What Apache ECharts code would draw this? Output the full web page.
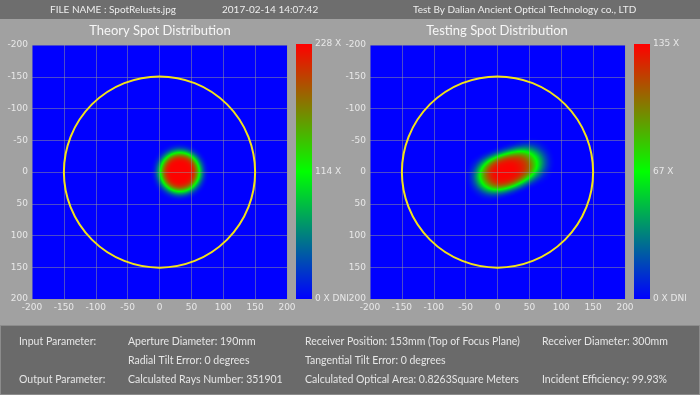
<!DOCTYPE html>
<html><head><meta charset="utf-8">
<script src="https://cdn.jsdelivr.net/npm/echarts@6/dist/echarts.min.js"></script>
<style>html,body{margin:0;padding:0;background:#a1a1a1}#c{width:700px;height:395px}</style>
</head><body><div id="c"></div>
<script>
// ---- data ----
const axisTicks = [-200, -150, -100, -50, 0, 50, 100, 150, 200];
const receiverDiameter = 300;
const theoryMax = 228;
const testingMax = 135;
const theoryBarLabels = ['0 X DNI', '114 X', '228 X'];
const testingBarLabels = ['0 X DNI', '67 X', '135 X'];
// spot samples: [x (mm), y (mm), relative flux]
const theorySpot = [[32, 0, 228]];
const testingSpot = [[-11, 7, 80], [4, 2, 135], [19, -3, 135], [34, -9, 105], [51, -15, 60]];
const plotTitles = ['Theory Spot Distribution', 'Testing Spot Distribution'];
const headerTexts = ['FILE NAME : SpotRelusts.jpg', '2017-02-14 14:07:42', 'Test By Dalian Ancient Optical Technology co., LTD'];
const footerRows = [
  ['Input Parameter:', 'Aperture Diameter: 190mm', 'Receiver Position: 153mm (Top of Focus Plane)', 'Receiver Diameter: 300mm'],
  ['', 'Radial Tilt Error: 0 degrees', 'Tangential Tilt Error: 0 degrees', ''],
  ['Output Parameter:', 'Calculated Rays Number: 351901', 'Calculated Optical Area: 0.8263Square Meters', 'Incident Efficiency: 99.93%']
];

// ---- layout ----
const plotLeft = [32, 370];
const barLeft = [296, 634];
const plotTop = 45, plotW = 255, plotH = 254;
const FONT = 'Lato';
const amin = axisTicks[0], amax = axisTicks[axisTicks.length - 1];
const step = axisTicks[1] - axisTicks[0];

echarts.registerMap('receiverPlane', {
  type: 'FeatureCollection',
  features: [{ type: 'Feature', properties: { name: 'plane' },
    geometry: { type: 'Polygon', coordinates: [[[amin, amin], [amax, amin], [amax, amax], [amin, amax], [amin, amin]]] } }]
});

const chart = echarts.init(document.getElementById('c'), null, { renderer: 'canvas' });
const labelColor = '#e8e8e8';
const rampColors = ['#0000ff', '#00ff00', '#ff0000'];
const gridLineColor = 'rgba(150,150,150,0.5)';

function circleItem(params, api) {
  const c = api.coord([api.value(0), api.value(1)]);
  const r = api.size([api.value(2), 0])[0];
  return { type: 'circle', shape: { cx: c[0], cy: c[1], r: r },
    style: { fill: 'transparent', stroke: '#f2e21a', lineWidth: 2 } };
}
function barItem(params, api) {
  const p0 = api.coord([0, api.value(0)]);
  const p1 = api.coord([1, api.value(1)]);
  return { type: 'rect', shape: { x: p0[0], y: p1[1], width: p1[0] - p0[0], height: p0[1] - p1[1] },
    style: { fill: new echarts.graphic.LinearGradient(0, 1, 0, 0,
      rampColors.map((c, k) => ({ offset: k / (rampColors.length - 1), color: c }))) } };
}

const grids = [], xAxes = [], yAxes = [];
[0, 1].forEach(i => {
  grids.push({ left: plotLeft[i], top: plotTop, width: plotW, height: plotH, containLabel: false });
  xAxes.push({ gridIndex: i, type: 'value', min: amin, max: amax, interval: step, z: 3,
    axisLine: { show: false }, axisTick: { show: false },
    splitLine: { show: true, lineStyle: { color: gridLineColor, width: 1 } },
    axisLabel: { color: labelColor, fontSize: 9, margin: 4, fontFamily: 'DejaVu Sans', showMinLabel: true, showMaxLabel: true } });
  yAxes.push({ gridIndex: i, type: 'value', min: amin, max: amax, interval: step, inverse: true, z: 3,
    axisLine: { show: false }, axisTick: { show: false },
    splitLine: { show: true, lineStyle: { color: gridLineColor, width: 1 } },
    axisLabel: { color: labelColor, fontSize: 9, margin: 4, fontFamily: 'DejaVu Sans', showMinLabel: true, showMaxLabel: true } });
});
const barMax = [theoryMax, testingMax];
const barLabels = [theoryBarLabels, testingBarLabels];
[0, 1].forEach(i => {
  grids.push({ left: barLeft[i], top: 44, width: 16, height: 255 });
  xAxes.push({ gridIndex: 2 + i, type: 'value', min: 0, max: 1, show: false });
  yAxes.push({ gridIndex: 2 + i, type: 'value', min: 0, max: barMax[i], interval: barMax[i] / 2, position: 'right',
    axisLine: { show: false }, axisTick: { show: false }, splitLine: { show: false },
    axisLabel: { color: labelColor, fontSize: 9, margin: 3, fontFamily: 'DejaVu Sans', showMinLabel: true, showMaxLabel: true,
      formatter: (v, idx) => barLabels[i][idx] } });
});

const graphics = [
  { type: 'rect', shape: { x: 0, y: 0, width: 700, height: 19 }, style: { fill: '#6e6e6e' }, silent: true },
  { type: 'rect', shape: { x: 0.5, y: 325.5, width: 699, height: 69 }, style: { fill: '#6a6a6a', stroke: '#8c8c8c', lineWidth: 1 }, silent: true }
];
const headerX = [50, 222, 413];
headerTexts.forEach((t, k) => graphics.push({ type: 'text', x: headerX[k], y: 10, silent: true,
  style: { text: t, fill: '#eeeeee', font: '10px ' + FONT, textVerticalAlign: 'middle' } }));
const titleX = [160, 497];
plotTitles.forEach((t, k) => graphics.push({ type: 'text', x: titleX[k], y: 31, silent: true,
  style: { text: t, fill: '#f6f6f6', font: '13px ' + FONT, textAlign: 'center', textVerticalAlign: 'middle' } }));
const footX = [19, 128, 305, 542], footY = [342, 361, 380];
footerRows.forEach((row, r) => row.forEach((t, c) => { if (t) graphics.push({ type: 'text', x: footX[c], y: footY[r], silent: true,
  style: { text: t, fill: '#e6e6e6', font: '10.5px ' + FONT, textVerticalAlign: 'middle' } }); }));

const option = {
  backgroundColor: '#a1a1a1',
  animation: false,
  graphic: graphics,
  geo: [0, 1].map(i => ({
    map: 'receiverPlane', left: plotLeft[i], top: plotTop, width: plotW, height: plotH,
    projection: { project: p => [p[0], p[1]], unproject: p => [p[0], p[1]] },
    roam: false, silent: true, z: 0,
    itemStyle: { areaColor: '#0000ff', borderWidth: 0 },
    label: { show: false }, emphasis: { disabled: true }, select: { disabled: true }
  })),
  grid: grids, xAxis: xAxes, yAxis: yAxes,
  visualMap: [0, 1].map(i => ({
    type: 'continuous', show: false, seriesIndex: i, min: 0, max: barMax[i],
    inRange: { color: rampColors }
  })),
  series: [
    { type: 'heatmap', coordinateSystem: 'geo', geoIndex: 0, data: theorySpot, pointSize: 20, blurSize: 9, minOpacity: 1, maxOpacity: 1, silent: true },
    { type: 'heatmap', coordinateSystem: 'geo', geoIndex: 1, data: testingSpot, pointSize: 15, blurSize: 11, minOpacity: 1, maxOpacity: 1, silent: true },
    { type: 'custom', xAxisIndex: 0, yAxisIndex: 0, data: [[0, 0, receiverDiameter / 2]], renderItem: circleItem, z: 5, silent: true },
    { type: 'custom', xAxisIndex: 1, yAxisIndex: 1, data: [[0, 0, receiverDiameter / 2]], renderItem: circleItem, z: 5, silent: true },
    { type: 'custom', xAxisIndex: 2, yAxisIndex: 2, data: [[0, theoryMax]], renderItem: barItem, silent: true },
    { type: 'custom', xAxisIndex: 3, yAxisIndex: 3, data: [[0, testingMax]], renderItem: barItem, silent: true }
  ]
};
chart.setOption(option);
</script></body></html>
